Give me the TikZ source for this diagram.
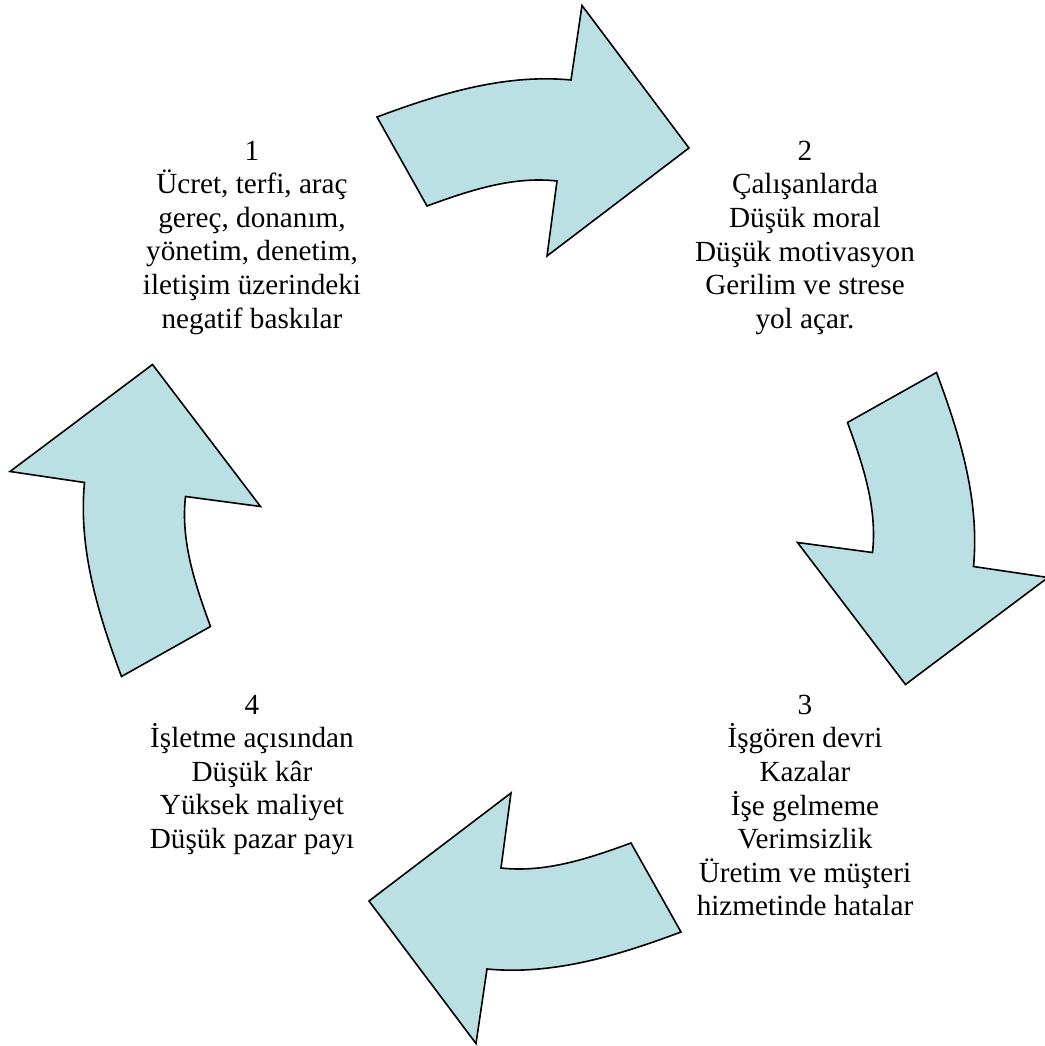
\documentclass[tikz,border=0pt]{standalone}
\usepackage{fontspec}
\setmainfont{Liberation Serif}
\definecolor{arrowfill}{RGB}{187,224,227}

\begin{document}
\begin{tikzpicture}[
    x=0.5pt, y=0.5pt,
    % Shape styles
    cycle arrow/.style={
        fill=arrowfill, draw=black, line width=0.8pt, line join=miter,
      },
    % Text styles
    step text/.style={
        align=center, anchor=north, inner sep=0pt,
        font=\fontsize{14.6}{16.8}\selectfont,
      },
  ]
  \useasboundingbox (-529,-521.5) rectangle (516,524.5);

  % --- Curved block arrows, one for each quarter turn ---
  \foreach \ang in {0,-90,-180,-270} {
      \draw[cycle arrow, rotate=\ang]
      (-152,407.5) .. controls (-89.4,430.9) and (-24.5,450.8) .. (42,444.5)
      -- (53,519) -- (160,376.5) -- (18,268.5) -- (28,343.5)
      .. controls (-16.3,348.5) and (-59.6,334) .. (-102,318.5)
      -- cycle;
    }

  % --- Step texts ---
  \node[step text] (s1) at (-277,384)
  {1\\Ücret, terfi, araç\\gereç, donanım,\\yönetim, denetim,\\iletişim üzerindeki\\negatif baskılar};
  \node[step text] (s2) at (276,384)
  {2\\Çalışanlarda\\Düşük moral\\Düşük motivasyon\\Gerilim ve strese\\yol açar.};
  \node[step text] (s3) at (276,-170)
  {3\\İşgören devri\\Kazalar\\İşe gelmeme\\Verimsizlik\\Üretim ve müşteri\\hizmetinde hatalar};
  \node[step text] (s4) at (-277,-170)
  {4\\İşletme açısından\\Düşük kâr\\Yüksek maliyet\\Düşük pazar payı};

\end{tikzpicture}
\end{document}
